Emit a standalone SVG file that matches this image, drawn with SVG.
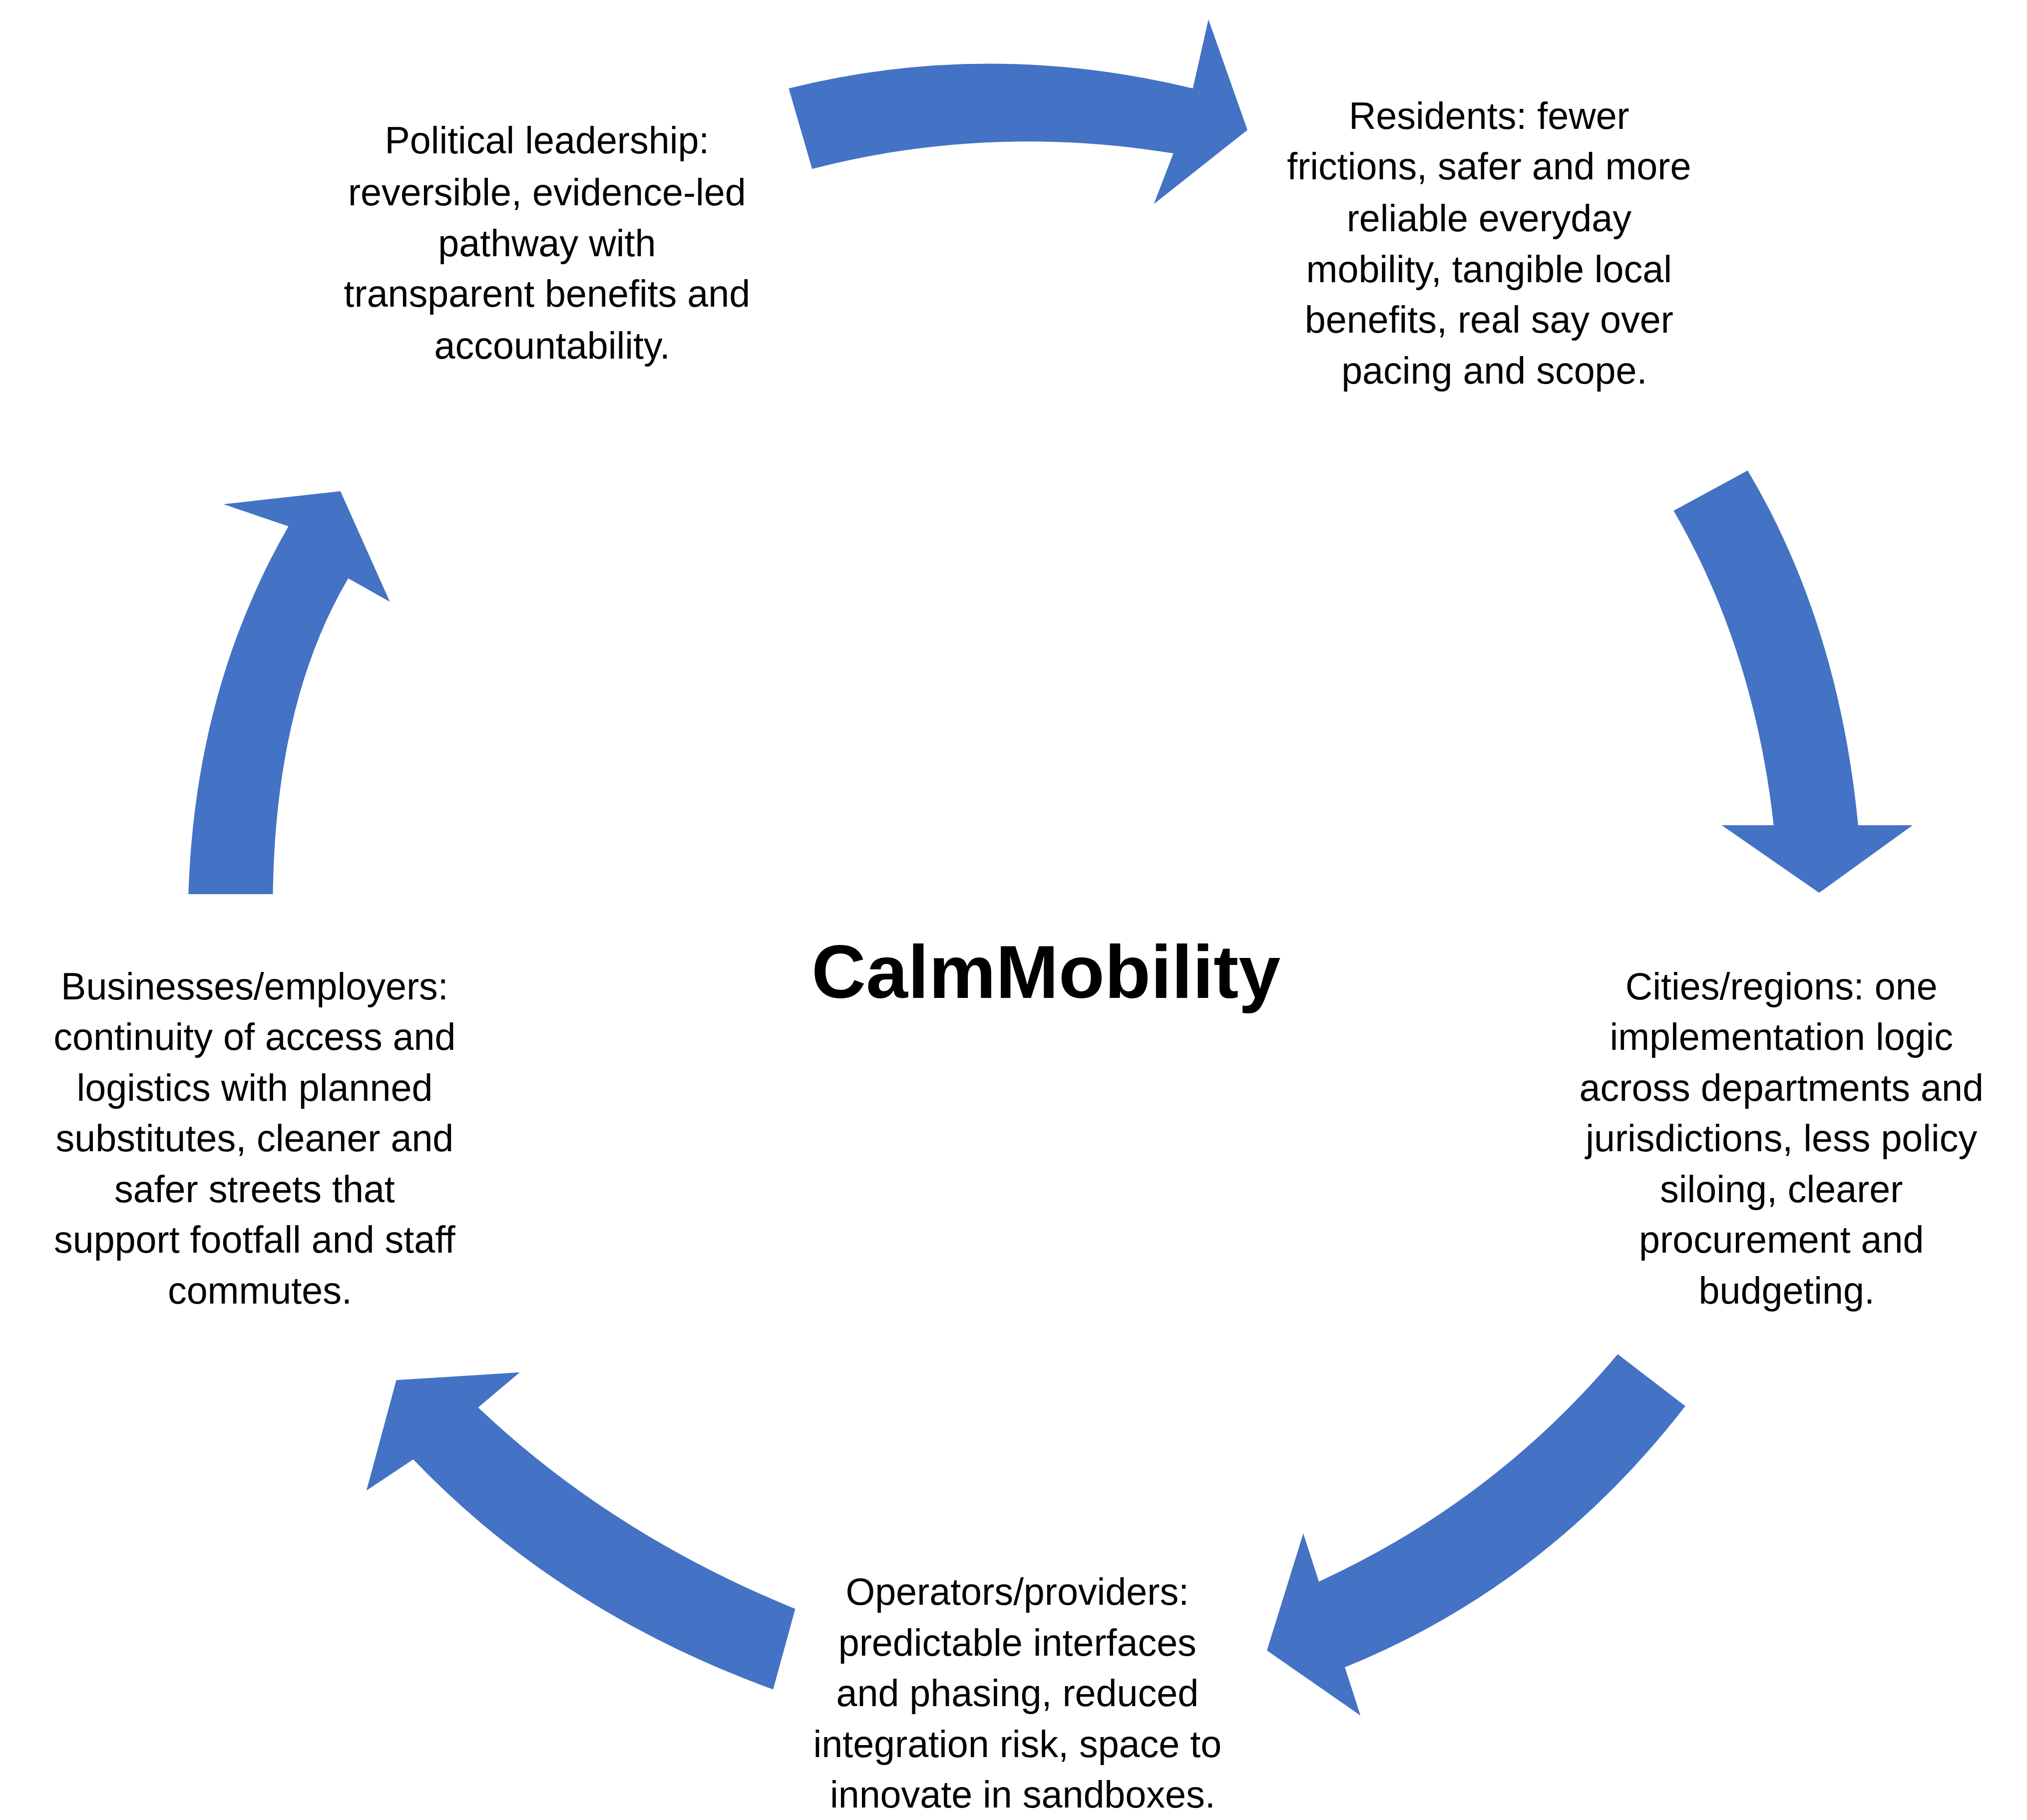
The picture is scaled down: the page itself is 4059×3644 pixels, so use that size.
<svg xmlns="http://www.w3.org/2000/svg" width="4059" height="3644" viewBox="0 0 4059 3644">
<style>
.a{fill:#4472C4}
.t{font-family:"Liberation Sans",Arial,sans-serif;font-size:29px;fill:#000;text-anchor:middle}
.h{font-family:"Liberation Sans",Arial,sans-serif;font-size:58px;font-weight:bold;fill:#000;text-anchor:middle}
</style>
<rect width="4059" height="3644" fill="#fff"/>
<g transform="scale(2.602)">
<g id="connectors">
<path class="a" d="M607,68 Q760,30 918,68 L930,15 L960,100 L888,157 L903,118 Q760,95 625,130 Z"/>
<path class="a" d="M1288,393 L1345,362 Q1415,480 1430,635 L1472,635 L1400,687 L1325,635 L1365,635 Q1350,500 1288,393 Z"/>
<path class="a" d="M1245,1042 L1297,1082 Q1190,1220 1035,1283 L1047,1320 L975,1270 L1003,1180 L1015,1217 Q1150,1155 1245,1042 Z"/>
<path class="a" d="M612,1238 L595,1300 Q430,1240 318,1123 L282,1147 L305,1062 L400,1056 L368,1083 Q470,1180 612,1238 Z"/>
<path class="a" d="M145,688 L210,688 Q212,540 268,445 L300,463 L262,378 L172,388 L222,405 Q150,530 145,688 Z"/>
</g>
<g id="center"><text class="h" x="805" y="768">CalmMobility</text></g>
<g id="political"><text class="t">
<tspan x="425" y="118">Political leadership:</tspan>
<tspan x="425" y="158">reversible, evidence-led</tspan>
<tspan x="425" y="197">pathway with</tspan>
<tspan x="425" y="236">transparent benefits and</tspan>
<tspan x="425" y="276">accountability.</tspan></text></g>
<g id="residents"><text class="t">
<tspan x="1150" y="99">Residents: fewer</tspan>
<tspan x="1150" y="138">frictions, safer and more</tspan>
<tspan x="1150" y="178">reliable everyday</tspan>
<tspan x="1150" y="217">mobility, tangible local</tspan>
<tspan x="1150" y="256">benefits, real say over</tspan>
<tspan x="1150" y="295">pacing and scope.</tspan></text></g>
<g id="cities"><text class="t">
<tspan x="1375" y="769">Cities/regions: one</tspan>
<tspan x="1375" y="808">implementation logic</tspan>
<tspan x="1375" y="847">across departments and</tspan>
<tspan x="1375" y="886">jurisdictions, less policy</tspan>
<tspan x="1375" y="925">siloing, clearer</tspan>
<tspan x="1375" y="964">procurement and</tspan>
<tspan x="1375" y="1003">budgeting.</tspan></text></g>
<g id="operators"><text class="t">
<tspan x="787" y="1235">Operators/providers:</tspan>
<tspan x="787" y="1274">predictable interfaces</tspan>
<tspan x="787" y="1313">and phasing, reduced</tspan>
<tspan x="787" y="1352">integration risk, space to</tspan>
<tspan x="787" y="1391">innovate in sandboxes.</tspan></text></g>
<g id="businesses"><text class="t">
<tspan x="200" y="769">Businesses/employers:</tspan>
<tspan x="200" y="808">continuity of access and</tspan>
<tspan x="200" y="847">logistics with planned</tspan>
<tspan x="200" y="886">substitutes, cleaner and</tspan>
<tspan x="200" y="925">safer streets that</tspan>
<tspan x="200" y="964">support footfall and staff</tspan>
<tspan x="200" y="1003">commutes.</tspan></text></g>
</g>
</svg>
